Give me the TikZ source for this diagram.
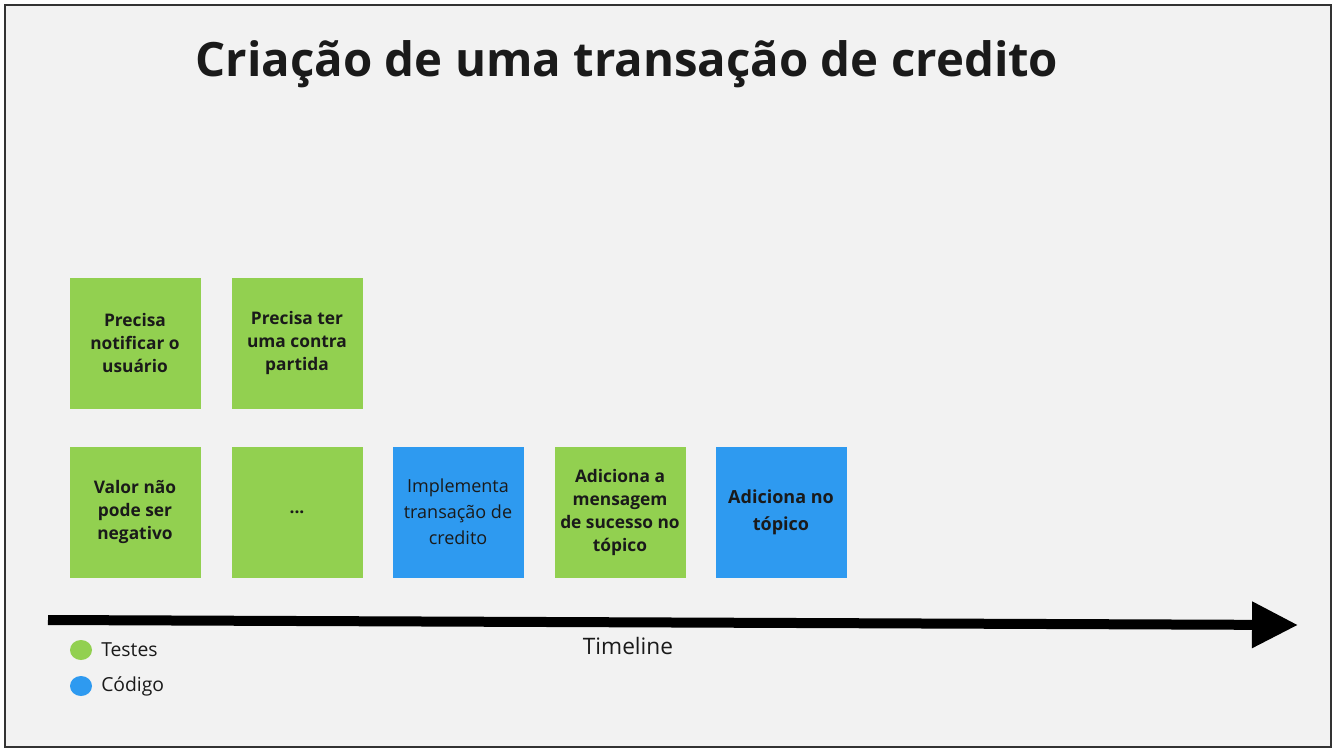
\documentclass[tikz,border=0pt]{standalone}
\usepackage{fontspec}
\setmainfont{Open Sans}
\usepackage{tikz}
\usepackage{xcolor}
\usetikzlibrary{positioning, arrows.meta, shapes.geometric}
\definecolor{cTest}{HTML}{92D050}
\definecolor{cCode}{HTML}{2E9AF0}
\definecolor{cPaper}{HTML}{F2F2F2}
\definecolor{cFrame}{HTML}{333333}
\definecolor{cInk}{HTML}{1A1A1A}

\begin{document}
\begin{tikzpicture}[x=0.75pt, y=-0.75pt,
    card/.style={minimum width=131*0.75pt, minimum height=131*0.75pt, inner sep=0pt,
      align=center, text=cInk, font=\fontsize{13}{17.25}\selectfont\bfseries},
    test/.style={card, fill=cTest},
    code/.style={card, fill=cCode},
    dot/.style={ellipse, minimum width=22*0.75pt, minimum height=20*0.75pt, inner sep=0pt},
    legend/.style={right, inner sep=0pt, text=cInk, font=\fontsize{14.5}{17}\selectfont}]
  \useasboundingbox (0,0) rectangle (1337,752);
  \draw[cFrame, fill=cPaper, line width=2.2pt] (5,5) rectangle (1331,747);
  \node[text=cInk, font=\fontsize{35.5}{41}\selectfont\bfseries] (title) at (627,64) {Criação de uma transação de credito};
  % cards
  \node[test] (notify) at (135,343) {Precisa\\notificar o\\usuário};
  \node[test] (contra) at (297,343) {Precisa ter\\uma contra\\partida};
  \node[test] (valor) at (135,512) {Valor não\\pode ser\\negativo};
  \node[test] (dots) at (297,512) {...};
  \node[code, font=\fontsize{13.5}{19.5}\selectfont] (impl) at (458,512) {Implementa\\transação de\\credito};
  \node[test] (msg) at (620,512) {Adiciona a\\mensagem\\de sucesso no\\tópico};
  \node[code, font=\fontsize{13.5}{20}\selectfont\bfseries] (topic) at (781,512) {Adiciona no\\tópico};
  % timeline
  \coordinate (tstart) at (48,620);
  \coordinate (tend) at (1298,625);
  \draw[line width=7.5pt, -{Triangle[length=46*0.75pt, width=44*0.75pt]}] (tstart) -- (tend);
  \node[text=cInk, font=\fontsize{17}{20}\selectfont] (tlabel) at (628,646) {Timeline};
  % legend
  \node[dot, fill=cTest] (ktest) at (81,650) {};
  \node[legend] at (101,650) {Testes};
  \node[dot, fill=cCode] (kcode) at (81,686) {};
  \node[legend] at (101,686) {Código};
\end{tikzpicture}
\end{document}
